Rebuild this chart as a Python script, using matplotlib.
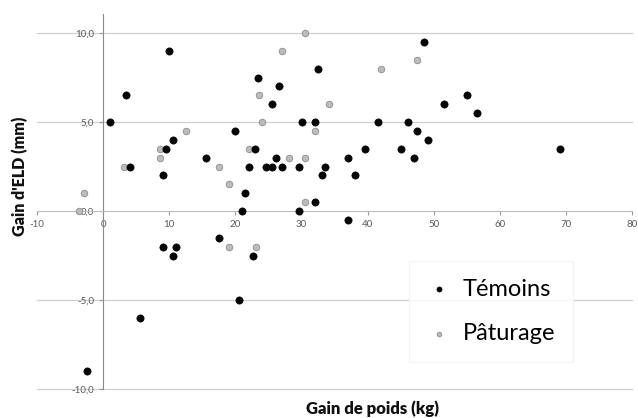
import matplotlib.pyplot as plt
from matplotlib.ticker import FuncFormatter

plt.rcParams['font.family'] = ['Lato', 'DejaVu Sans']

# Témoins (noir)
tem_x = [10, 3.5, 1, 4, 9, 9.5, 10.5, 15.5, 20, 21.5, 21, 22, 23, 23.5, 24.6, 25.5,
         25.6, 26.1, 26.6, 27.1, 29.6, 30.1, 32, 32.5, 33.1, 29.6, 32, 48.6, 55.1, 51.6,
         56.6, 41.6, 46.1, 47.5, 49.1, 39.6, 45.1, 47.1, 37.1, 33.6, 38.1, 69.1, 37.1,
         9, 10.6, 11.1, 17.5, 22.6, 20.6, 5.6, -2.5]
tem_y = [9, 6.5, 5, 2.5, 2, 3.5, 4, 3, 4.5, 1, 0, 2.5, 3.5, 7.5, 2.5, 6,
         2.5, 3, 7, 2.5, 2.5, 5, 5, 8, 2, 0, 0.5, 9.5, 6.5, 6,
         5.5, 5, 5, 4.5, 4, 3.5, 3.5, 3, 3, 2.5, 2, 3.5, -0.5,
         -2, -2.5, -2, -1.5, -2.5, -5, -6, -9]

# Pâturage (gris)
pat_x = [30.6, 27.1, 23.6, 24.1, 12.6, 8.6, 8.6, 3.1, 17.5, 19.1, 22.1, 28.1, 30.6,
         32.1, -2.9, 30.6, -3.6, 42.1, 47.5, 34.1, 19.1, 23.1]
pat_y = [10, 9, 6.5, 5, 4.5, 3.5, 3, 2.5, 2.5, 1.5, 3.5, 3, 3,
         4.5, 1, 0.5, 0, 8, 8.5, 6, -2, -2]

x_ticks = [-10, 0, 10, 20, 30, 40, 50, 60, 70, 80]
y_ticks = [-10, -5, 0, 5, 10]

fig = plt.figure(figsize=(6.38, 4.18), dpi=100)
ax = fig.add_axes([37/638, 1-389/418, (632-37)/638, (389-13.5)/418])

ax.scatter(pat_x, pat_y, s=22, c='#bcbcbc', edgecolors='#8c8c8c', linewidths=0.6,
           label='Pâturage', zorder=3)
ax.scatter(tem_x, tem_y, s=27, c='#050505', edgecolors='black', linewidths=0.5,
           label='Témoins', zorder=4)

ax.set_xlim(-10, 80)
ax.set_ylim(-10, 11.1)
ax.set_xticks(x_ticks)
ax.set_yticks(y_ticks)
ax.xaxis.set_major_formatter(FuncFormatter(lambda v, p: '%d' % v))
ax.yaxis.set_major_formatter(FuncFormatter(lambda v, p: ('%.1f' % v).replace('.', ',')))

for v in [-10, -5, 5, 10]:
    ax.axhline(v, color='#d0d0d0', linewidth=0.9, zorder=1, clip_on=False)

ax.spines['top'].set_visible(False)
ax.spines['right'].set_visible(False)
ax.spines['left'].set_position(('data', 0))
ax.spines['bottom'].set_position(('data', 0))
ax.spines['left'].set_color('#8a8a8a')
ax.spines['bottom'].set_color('#bdbdbd')
ax.tick_params(axis='both', length=3, color='#9a9a9a', labelsize=7,
               labelcolor='#595959', width=0.8)

# legende
h = ax.legend(handles=[ax.collections[1], ax.collections[0]], loc='center',
              bbox_to_anchor=(491/638, 1-311.5/418), bbox_transform=fig.transFigure,
              fontsize=17, markerscale=0.7, frameon=True, fancybox=False,
              labelspacing=1.0, borderpad=0.75, handlelength=1.0, handletextpad=0.5,
              borderaxespad=0)
h.get_frame().set_edgecolor('#f2f2f2')
h.get_frame().set_linewidth(0.8)

fig.text(20/638, 1-176.5/418, "Gain d'ELD (mm)", rotation=90, ha='center', va='center',
         fontsize=11.5, fontweight='heavy', color='#111111')
fig.text(373/638, 1-409/418, 'Gain de poids (kg)', ha='center', va='center',
         fontsize=12, fontweight='heavy', color='#111111')

fig.savefig('out.png', dpi=100)
